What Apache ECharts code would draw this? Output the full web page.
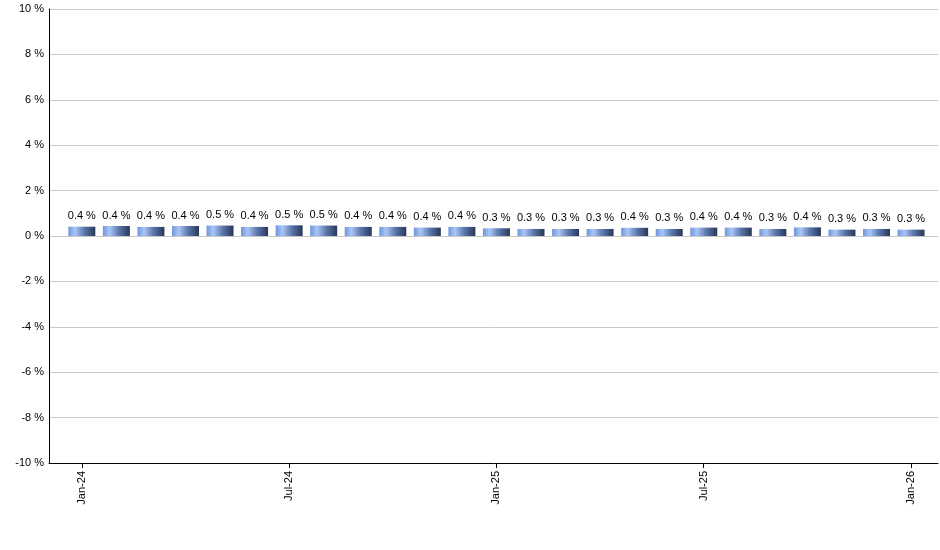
<!DOCTYPE html>
<html>
<head>
<meta charset="utf-8">
<script src="https://cdn.jsdelivr.net/npm/echarts@6/dist/echarts.min.js"></script>
<style>
html,body{margin:0;padding:0;background:#fff;}
#chart{width:940px;height:550px;}
</style>
</head>
<body>
<div id="chart"></div>
<script>
var months = ['Jan-24','Feb-24','Mar-24','Apr-24','May-24','Jun-24','Jul-24','Aug-24','Sep-24','Oct-24','Nov-24','Dec-24',
              'Jan-25','Feb-25','Mar-25','Apr-25','May-25','Jun-25','Jul-25','Aug-25','Sep-25','Oct-25','Nov-25','Dec-25','Jan-26'];
var values = [0.41,0.44,0.40,0.44,0.46,0.40,0.47,0.46,0.40,0.40,0.37,0.40,
              0.34,0.31,0.31,0.31,0.36,0.31,0.37,0.37,0.31,0.38,0.28,0.31,0.28];
var labelIdx = [0,6,12,18,24];
var yTicks = {min:-10, max:10, step:2};

var font = "'Liberation Sans', Arial, sans-serif";
var chart = echarts.init(document.getElementById('chart'), null, {renderer:'canvas'});
var barColor = new echarts.graphic.LinearGradient(0,0,1,0,[
  {offset:0, color:'#6f95dc'},
  {offset:0.25, color:'#a9c6f7'},
  {offset:0.6, color:'#5b76aa'},
  {offset:1, color:'#283758'}
]);
chart.setOption({
  animation:false,
  grid:{left:49, right:2, top:9, bottom:87},
  xAxis:{
    type:'value', min:-0.95, max:24.78,
    axisLine:{show:true, onZero:false, lineStyle:{color:'#000', width:1}},
    splitLine:{show:false},
    axisTick:{show:true, length:5, customValues:labelIdx, lineStyle:{color:'#000'}},
    axisLabel:{customValues:labelIdx, rotate:90, margin:8, color:'#000', fontSize:11, fontFamily:font,
      formatter:function(v){ return months[Math.round(v)]; }}
  },
  yAxis:{
    type:'value', min:yTicks.min, max:yTicks.max, interval:yTicks.step,
    axisLine:{show:true, onZero:false, lineStyle:{color:'#000', width:1}},
    axisTick:{show:false},
    splitLine:{show:true, lineStyle:{color:'#c8c8c8', width:1}},
    axisLabel:{color:'#000', fontSize:11, fontFamily:font, margin:5, formatter:'{value} %'}
  },
  series:[{
    type:'bar',
    barWidth:27,
    data:values.map(function(v,i){return [i,v];}),
    itemStyle:{color:barColor},
    label:{show:true, position:'top', distance:5, color:'#000', fontSize:11, fontFamily:font,
      formatter:function(p){ return p.value[1].toFixed(1)+' %'; }}
  }]
});
</script>
</body>
</html>
